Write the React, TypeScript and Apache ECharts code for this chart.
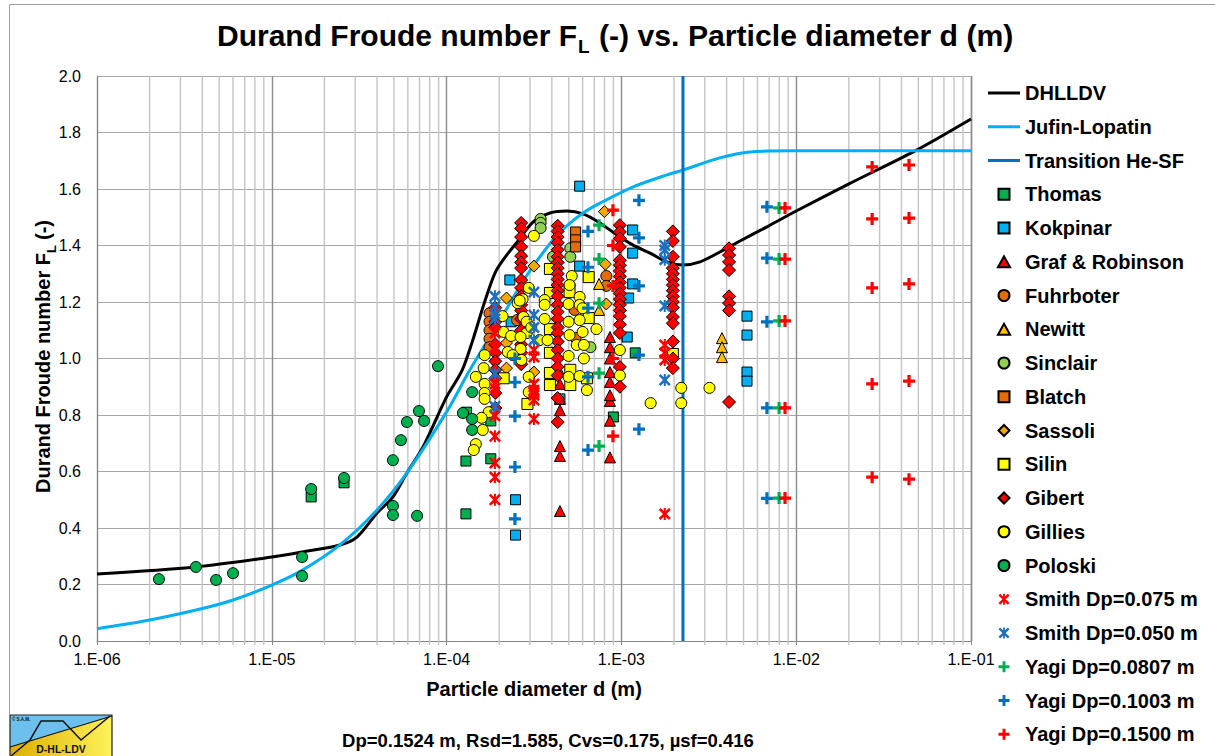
import React, { useEffect, useRef } from "react";
import * as echarts from "echarts";

type P = [number, number];
const col = (d: number, fs: number[]): P[] => fs.map((f) => [d, f] as P);

const majorLabelsExp = ["06", "05", "04", "03", "02", "01"];
const minorGrid: P[] = [2,3,4,5,6,7,8,9].flatMap((m) => [-6,-5,-4,-3,-2].map((e) => [Number(`${m}e${e}`), 0] as P));

const dhlldv: P[] = [[1e-6,.237],[3.68e-6,.262],[1e-5,.297],[1.49e-5,.315],[2.45e-5,.34],[3.07e-5,.368],[4e-5,.453],[4.93e-5,.51],[5.93e-5,.595],[7.33e-5,.687],[1e-4,.864],[1.22e-4,.955],[1.4e-4,1.058],[1.65e-4,1.2],[1.9e-4,1.305],[2.2e-4,1.365],[2.53e-4,1.412],[3.12e-4,1.483],[3.9e-4,1.515],[4.89e-4,1.522],[6.03e-4,1.512],[7.54e-4,1.48],[9.44e-4,1.437],[1.16e-3,1.402],[1.46e-3,1.373],[1.82e-3,1.342],[2.25e-3,1.331],[2.82e-3,1.342],[3.66e-3,1.377],[4.77e-3,1.416],[6.8e-3,1.466],[1e-2,1.522],[2.03e-2,1.62],[4.79e-2,1.735],[0.1,1.848]];
const jufin: P[] = [[1e-6,.043],[2e-6,.074],[3.9e-6,.113],[6e-6,.145],[1e-5,.198],[1.49e-5,.25],[2.45e-5,.34],[4e-5,.464],[5.93e-5,.595],[1e-4,.811],[1.36e-4,.96],[2.02e-4,1.136],[2.81e-4,1.285],[4.06e-4,1.42],[4.89e-4,1.47],[6.03e-4,1.515],[7.54e-4,1.55],[1.16e-3,1.607],[1.82e-3,1.65],[2.25e-3,1.667],[3.66e-3,1.71],[5.44e-3,1.731],[9.2e-3,1.735],[0.1,1.735]];
const transition: P[] = [[2.25e-3,0],[2.25e-3,2]];

const thomas: P[] = [[1.68e-5,.51],[2.59e-5,.56],[1.29e-4,.45],[1.29e-4,.637],[1.3e-4,.81],[1.79e-4,.645],[1.79e-4,.779],[9e-4,.793],[1.2e-3,1.02]];
const kokpinar: P[] = [[5.77e-4,1.61],[2.3e-4,1.278],[5.77e-4,1.327],[1.16e-3,1.455],[1.16e-3,1.373],[1.16e-3,1.264],[1.1e-3,1.214],[1.08e-3,1.076],[2.48e-4,.5],[2.48e-4,.375],[5.23e-3,1.15],[5.23e-3,1.083],[5.23e-3,.952],[5.23e-3,.92],[2.34e-4,1.13],[4.45e-4,.857]];
const graf: P[] = [...col(8.6e-4,[.65,.78,.85,.87,.917,.952,1.0,1.04,1.076]),...col(4.45e-4,[.46,.655,.69,.817,.857,.91,.952])];
const fuhrboter: P[] = [...col(1.76e-4,[1.16,1.13,1.1,1.07,1.04]),[8.2e-4,1.292],[8.2e-4,1.257],[5.4e-4,1.172],[5.47e-4,1.073],[2.53e-4,1.136]];
const newitt: P[] = [...col(3.76e-3,[1.072,1.04,1.005]),[7.45e-4,1.264],[7.45e-4,1.172]];
const sinclair: P[] = [[3.45e-4,1.494],[3.45e-4,1.48],[3.45e-4,1.462],[5.1e-4,1.39],[5.1e-4,1.36],[4.06e-4,1.36],[6.65e-4,1.04],[5.05e-4,1.26]];
const blatch: P[] = col(5.47e-4,[1.448,1.42,1.395]);
const sassoli: P[] = [[8e-4,1.52],[3.16e-4,1.327],[8.1e-4,1.334],[2.2e-4,1.214],[8.2e-4,1.193],[2.2e-4,1.055],[2.2e-4,.966],[3.16e-4,.952]];
const silin: P[] = [[3.9e-4,1.317],[6.5e-4,1.288],[5.05e-4,1.235],[3.9e-4,1.232],[6.5e-4,1.143],[3.9e-4,1.104],[3.9e-4,1.02],[1.97e-3,1.016],[3.9e-4,.906],[5.1e-4,.906],[5.1e-4,.96],[6.35e-4,.93],[2.9e-4,.839],[3.9e-4,.949],[2.12e-4,.93]];
const gibert: P[] = [
  ...col(1.9e-4,[1.18,1.13,1.11,1.05,1.02,.99,.96,.93,.878,.825]),
  ...col(2.67e-4,[1.48,1.46,1.43,1.395,1.363,1.34,1.32,1.278,1.25,1.22,1.19,1.17,1.14,1.1,1.05,1.02,.98]),
  ...col(4.32e-4,[1.47,1.45,1.43,1.41,1.385,1.36,1.34,1.32,1.3,1.28,1.26,1.24,1.22,1.19,1.165,1.14,1.11,1.09,1.06,1.03,1.0,.97,.94,.86,.775]),
  ...col(9.8e-4,[1.472,1.448,1.425,1.395,1.348,1.33,1.31,1.29,1.27,1.25,1.23,1.21,1.19,1.17,1.15,1.12,1.09,.97,.9]),
  ...col(1.97e-3,[1.45,1.416,1.36,1.32,1.3,1.28,1.26,1.24,1.22,1.2,1.18,1.147,1.125,1.06,1.0,.966]),
  ...col(4.13e-3,[1.39,1.366,1.342,1.313,1.22,1.196,1.17,.846]),
];
const gillies: P[] = [[3.16e-4,1.434],[5.2e-4,1.292],[5.05e-4,1.26],[2.95e-4,1.25],[2.72e-4,1.21],[2.55e-4,1.196],[2.62e-4,1.205],[3.64e-4,1.207],[3.64e-4,1.19],[5.77e-4,1.218],[4.99e-4,1.193],[5.77e-4,1.19],[6e-4,1.178],[2.09e-4,1.15],[2.75e-4,1.147],[2.87e-4,1.13],[3.64e-4,1.14],[4.99e-4,1.13],[5.77e-4,1.136],[7.2e-4,1.104],[6e-4,1.094],[5.05e-4,1.083],[2.12e-4,1.094],[2.34e-4,1.08],[2.87e-4,1.09],[3.05e-4,1.11],[3.4e-4,1.065],[3.78e-4,1.065],[2.65e-4,1.076],[2.65e-4,1.034],[5.55e-4,1.048],[6.1e-4,1.048],[2.24e-4,1.023],[2.39e-4,1.012],[1.65e-4,1.012],[2.68e-4,.995],[1.63e-4,.966],[4.99e-4,1.009],[6.1e-4,1.0],[9.8e-4,1.03],[1.47e-4,.935],[1.65e-4,.91],[1.65e-4,.878],[1.65e-4,.857],[1.74e-4,.81],[1.585e-4,.79],[1.61e-4,.747],[1.47e-4,.697],[1.43e-4,.676],[2.95e-4,.935],[2.95e-4,.881],[4.99e-4,.935],[5.77e-4,.938],[6.35e-4,.888],[9.8e-4,.94],[2.2e-3,.896],[2.2e-3,.842],[1.47e-3,.842],[3.19e-3,.896]];
const poloski: P[] = [[2.26e-6,.219],[3.68e-6,.262],[4.8e-6,.216],[6e-6,.24],[1.49e-5,.297],[1.49e-5,.23],[1.68e-5,.538],[2.59e-5,.577],[4.93e-5,.64],[4.93e-5,.478],[4.93e-5,.446],[6.78e-5,.443],[5.48e-5,.711],[5.93e-5,.775],[6.95e-5,.814],[7.43e-5,.779],[8.93e-5,.973],[1.24e-4,.807],[1.4e-4,.881],[1.4e-4,.786],[1.4e-4,.747]];
const smith075: P[] = [...col(1.89e-4,[.5,.58,.63,.725,.797,.895,.91,1.09,1.04]),...col(3.16e-4,[.786,.853,.87,.878,.888,.91,1.005,1.03]),...col(1.77e-3,[.45,.995,1.02,1.048])];
const smith050: P[] = [...col(1.89e-4,[1.22,1.183,1.157,1.14,.947,.83]),...col(3.16e-4,[1.235,1.154,1.11,1.065]),...col(1.77e-3,[1.4,1.384,1.35,1.186,.924])];
const yagi0807: P[] = [...col(7.45e-4,[1.472,1.352,1.196,.948,.69]),...col(7.98e-3,[1.533,1.352,1.133,.825,.506])];
const yagi1003: P[] = [...col(1.26e-3,[1.56,1.427,1.257,1.012,.75]),...col(6.44e-4,[1.45,1.323,1.178,.935,.676]),...col(2.46e-4,[1.0,.916,.796,.616,.432]),...col(6.8e-3,[1.537,1.355,1.13,.825,.505])];
const yagi1500: P[] = [...col(8.95e-4,[1.525,1.4,1.257,1.0,.725]),...col(8.63e-3,[1.533,1.352,1.133,.825,.506]),...col(2.72e-2,[1.678,1.494,1.25,.91,.58]),...col(4.42e-2,[1.685,1.497,1.264,.92,.573])];

const plusPath = "path://M4.4 0h3.2v4.4h4.4v3.2h-4.4v4.4h-3.2v-4.4h-4.4v-3.2h4.4z";
const starPath = "path://M1.8 0L6 4.2L10.2 0L12 1.8L7.8 6L12 10.2L10.2 12L6 7.8L1.8 12L0 10.2L4.2 6L0 1.8ZM5 0h2v12h-2z";
const lineIcon = "path://M0 0h32v3h-32z";
const rectIcon = "path://M0 0h10v10h-10z";
const triIcon = "path://M5.5 0L11 10h-11z";
const diaIcon = "path://M6 0L12 6L6 12L0 6z";

const FONT = "'Liberation Sans', Arial, sans-serif";

export default function App() {
  const ref = useRef<HTMLDivElement>(null);
  useEffect(() => {
    const chart = echarts.init(ref.current!, undefined, { renderer: "svg" });
    const line = (name: string, data: P[], color: string, smooth: number | boolean) => ({
      name, type: "line", data, smooth, symbol: "none", showSymbol: false, z: 3,
      lineStyle: { color, width: 3 }, itemStyle: { color }, silent: true,
    });
    const mark = (name: string, data: P[], symbol: string, size: number, color: string) => ({
      name, type: "scatter", data, symbol, symbolSize: size, z: 4,
      itemStyle: { color, borderColor: "#000", borderWidth: 1, opacity: 1 }, silent: true,
    });
    const cross = (name: string, data: P[], symbol: string, size: number, color: string) => ({
      name, type: "scatter", data, symbol, symbolSize: size, z: 4,
      itemStyle: { color, borderWidth: 0, opacity: 1 }, silent: true,
    });
    const series: any[] = [
      {
        name: "grid", type: "custom", data: minorGrid, z: 1, silent: true, clip: false,
        encode: { x: 0, y: 1 },
        renderItem: (_: any, api: any) => {
          const a = api.coord([api.value(0), 0]);
          const b = api.coord([api.value(0), 2]);
          return { type: "line", shape: { x1: a[0], y1: a[1] + 4, x2: b[0], y2: b[1] }, style: { stroke: "#c4c4c4", lineWidth: 1.4 } };
        },
      },
      line("DHLLDV", dhlldv, "#000000", 0.3),
      line("Jufin-Lopatin", jufin, "#00b0f0", 0.3),
      line("Transition He-SF", transition, "#0070c0", false),
      mark("Thomas", thomas, "rect", 10, "#00b050"),
      mark("Kokpinar", kokpinar, "rect", 10, "#00b0f0"),
      mark("Graf & Robinson", graf, "triangle", 11, "#ff0000"),
      mark("Fuhrboter", fuhrboter, "circle", 11, "#e36c09"),
      mark("Newitt", newitt, "triangle", 11, "#ffc000"),
      mark("Sinclair", sinclair, "circle", 11, "#92d050"),
      mark("Blatch", blatch, "rect", 10, "#e36c09"),
      mark("Sassoli", sassoli, "diamond", 12, "#f5a800"),
      mark("Silin", silin, "rect", 11, "#ffff00"),
      mark("Gibert", gibert, "diamond", 13, "#ff0000"),
      mark("Gillies", gillies, "circle", 11, "#ffff00"),
      mark("Poloski", poloski, "circle", 11, "#00b050"),
      cross("Smith Dp=0.075 m", smith075, starPath, 12, "#ff0000"),
      cross("Smith Dp=0.050 m", smith050, starPath, 12, "#1f6fc0"),
      cross("Yagi Dp=0.0807 m", yagi0807, plusPath, 12, "#00b050"),
      cross("Yagi Dp=0.1003 m", yagi1003, plusPath, 12, "#0070c0"),
      cross("Yagi Dp=0.1500 m", yagi1500, plusPath, 12, "#ff0000"),
    ];
    const iconOf = (s: any) =>
      s.type === "line" ? lineIcon
      : s.symbol === "rect" ? rectIcon
      : s.symbol === "triangle" ? triIcon
      : s.symbol === "diamond" ? diaIcon
      : s.symbol;
    chart.setOption({
      animation: false,
      backgroundColor: "#ffffff",
      textStyle: { fontFamily: FONT },
      grid: { left: 97, right: 244, top: 76, bottom: 115, containLabel: false },
      legend: {
        show: true, orient: "vertical", left: 988, top: 83, padding: 0, selectedMode: false,
        itemWidth: 32, itemHeight: 11, itemGap: 13.75,
        data: series.slice(1).map((s) => ({ name: s.name, icon: iconOf(s) })),
        textStyle: { fontSize: 20, fontWeight: "bold", color: "#000", fontFamily: FONT, lineHeight: 18 },
      },
      xAxis: {
        type: "log", logBase: 10, min: 1e-6, max: 0.1,
        name: "Particle diameter d (m)", nameLocation: "middle", nameGap: 38,
        nameTextStyle: { fontSize: 20, fontWeight: "bold", color: "#000", fontFamily: FONT },
        axisLine: { show: true, onZero: false, lineStyle: { color: "#868686", width: 1 } },
        axisTick: { show: true, length: 4, lineStyle: { color: "#868686" } },
        axisLabel: {
          fontSize: 16, color: "#000", fontFamily: FONT, margin: 10,
          formatter: (v: number) => `1.E-${majorLabelsExp[Math.round(Math.log10(v)) + 6]}`,
        },
        splitLine: { show: true, lineStyle: { color: "#8c8c8c", width: 1.4 } },
        minorTick: { show: false }, minorSplitLine: { show: false },
      },
      yAxis: {
        type: "value", min: 0, max: 2, interval: 0.2,
        axisLine: { show: true, lineStyle: { color: "#868686", width: 1 } },
        axisTick: { show: false },
        axisLabel: { fontSize: 16, color: "#000", fontFamily: FONT, margin: 16, formatter: (v: number) => v.toFixed(1) },
        splitLine: { show: true, lineStyle: { color: "#a8a8a8", width: 1.2 } },
      },
      graphic: [
        { type: "text", x: 577, y: 35, z: 10, style: { text: "Durand Froude number F", align: "right", verticalAlign: "middle", fontSize: 30, fontWeight: "bold", fill: "#000", fontFamily: FONT } },
        { type: "text", x: 578, y: 46, z: 10, style: { text: "L", align: "left", verticalAlign: "middle", fontSize: 19, fontWeight: "bold", fill: "#000", fontFamily: FONT } },
        { type: "text", x: 599, y: 35, z: 10, style: { text: "(-) vs. Particle diameter d (m)", align: "left", verticalAlign: "middle", fontSize: 30.2, fontWeight: "bold", fill: "#000", fontFamily: FONT } },
        { type: "text", x: 43, y: 493, rotation: Math.PI / 2, z: 10, style: { text: "Durand Froude number F", align: "left", verticalAlign: "middle", fontSize: 20, fontWeight: "bold", fill: "#000", fontFamily: FONT } },
        { type: "text", x: 51, y: 253, rotation: Math.PI / 2, z: 10, style: { text: "L", align: "left", verticalAlign: "middle", fontSize: 13, fontWeight: "bold", fill: "#000", fontFamily: FONT } },
        { type: "text", x: 43, y: 240, rotation: Math.PI / 2, z: 10, style: { text: "(-)", align: "left", verticalAlign: "middle", fontSize: 20, fontWeight: "bold", fill: "#000", fontFamily: FONT } },
        {
          type: "text", x: 548, y: 740, z: 10,
          style: { text: "Dp=0.1524 m, Rsd=1.585, Cvs=0.175, µsf=0.416", align: "center", verticalAlign: "middle", fontSize: 18.5, fontWeight: "bold", fill: "#000", fontFamily: FONT },
        },
        { type: "polyline", z: 1, shape: { points: [[9.5, 715], [9.5, 4.5], [1215, 4.5]] }, style: { stroke: "#a0a0a0", lineWidth: 1, fill: "none" } },
        {
          type: "group", x: 0, y: 0, z: 10,
          children: [
            { type: "rect", shape: { x: 10, y: 715, width: 102, height: 41 }, style: { fill: "#6cc0ee" } },
            {
              type: "polygon", shape: { points: [[10, 747], [112, 716], [112, 756], [10, 756]] },
              style: { fill: new echarts.graphic.LinearGradient(0, 0, 1, 0, [{ offset: 0, color: "#dcae00" }, { offset: 1, color: "#fff25a" }]) },
            },
            { type: "line", shape: { x1: 10, y1: 747, x2: 112, y2: 716 }, style: { stroke: "#111", lineWidth: 1.2 } },
            { type: "polyline", shape: { points: [[11, 756], [30, 740], [41, 721], [63, 721], [81, 740], [110, 716]] }, style: { stroke: "#111", lineWidth: 1.5, fill: "none" } },
            { type: "rect", shape: { x: 10, y: 715, width: 102, height: 42 }, style: { fill: "none", stroke: "#222", lineWidth: 1.2 } },
            { type: "text", x: 61, y: 749, style: { text: "D-HL-LDV", align: "center", verticalAlign: "middle", fontSize: 10.5, fontWeight: "bold", fill: "#111", fontFamily: FONT } },
            { type: "text", x: 12, y: 719, style: { text: "© S.A.M.", align: "left", verticalAlign: "middle", fontSize: 4.5, fontWeight: "bold", fill: "#111", fontFamily: FONT } },
          ],
        },
      ],
      series,
    });
    return () => chart.dispose();
  }, []);
  return <div ref={ref} style={{ position: "fixed", left: 0, top: 0, width: 1215, height: 756 }} />;
}
